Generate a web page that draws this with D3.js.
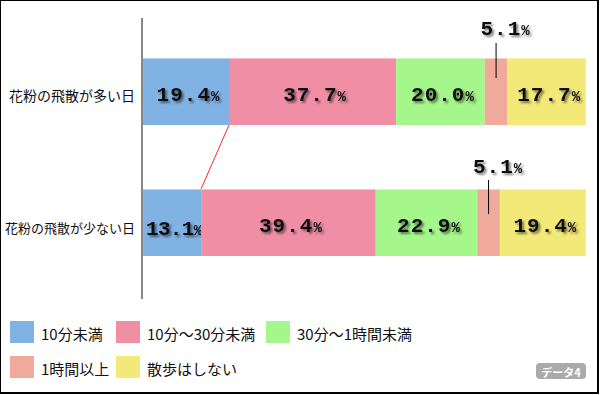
<!DOCTYPE html>
<html>
<head>
<meta charset="utf-8">
<script src="https://cdn.jsdelivr.net/npm/d3@7"></script>
<style>
  body { margin: 0; background: #fff; }
  svg { display: block; }
</style>
</head>
<body>
<div id="chart"></div>
<script>
(function() {
  'use strict';

  // data
  var categories = ['花粉の飛散が多い日', '花粉の飛散が少ない日'];
  var seriesNames = ['10分未満', '10分～30分未満', '30分～1時間未満', '1時間以上', '散歩はしない'];
  var seriesColors = ['#80b2e4', '#f08ea6', '#a5f68b', '#f0aa9b', '#f3e979'];
  var manyDay = [19.4, 37.7, 20.0, 5.1, 17.7];
  var fewDay = [13.1, 39.4, 22.9, 5.1, 19.4];
  var rows = [manyDay, fewDay];
  var badgeText = 'データ4';

  var width = 600,
    height = 395;

  var svg = d3.select('#chart')
    .append('svg')
    .attr('width', width)
    .attr('height', height);

  // frame (thin top/left, heavier right/bottom)
  svg.append('rect')
    .attr('x', 0).attr('y', 0)
    .attr('width', 599).attr('height', 394)
    .attr('fill', '#000');
  svg.append('rect')
    .attr('x', 1).attr('y', 1)
    .attr('width', 596).attr('height', 391)
    .attr('fill', '#fff');

  var defs = svg.append('defs');
  var shadow = defs.append('filter')
    .attr('id', 'txtShadow')
    .attr('x', '-20%').attr('y', '-30%')
    .attr('width', '140%').attr('height', '160%');
  shadow.append('feGaussianBlur')
    .attr('in', 'SourceAlpha')
    .attr('stdDeviation', 1)
    .attr('result', 'blur');
  shadow.append('feOffset')
    .attr('in', 'blur')
    .attr('dx', 2).attr('dy', 2)
    .attr('result', 'off');
  shadow.append('feComponentTransfer')
    .attr('in', 'off')
    .attr('result', 'soft')
    .append('feFuncA')
    .attr('type', 'linear')
    .attr('slope', 0.5);
  var merge = shadow.append('feMerge');
  merge.append('feMergeNode').attr('in', 'soft');
  merge.append('feMergeNode').attr('in', 'SourceGraphic');

  var x = d3.scaleLinear()
    .domain([0, 100])
    .range([143, 586.3]);

  var y = d3.scaleBand()
    .domain(categories)
    .range([58, 256])
    .paddingInner(0.4885)
    .paddingOuter(0);

  var bw = y.bandwidth();

  // stack each row
  var stacked = rows.map(function(vals, ri) {
    var acc = 0;
    return vals.map(function(v, si) {
      var d = { row: ri, cat: categories[ri], series: si, value: v, x0: acc, x1: acc + v };
      acc += v;
      return d;
    });
  });

  // axis line
  svg.append('line')
    .attr('x1', 142).attr('x2', 142)
    .attr('y1', 18).attr('y2', 299)
    .attr('stroke', '#888')
    .attr('stroke-width', 2);

  // connector between first segments
  svg.append('line')
    .attr('x1', x(stacked[0][0].x1)).attr('y1', y(categories[0]) + bw)
    .attr('x2', x(stacked[1][0].x1)).attr('y2', y(categories[1]))
    .attr('stroke', '#ff2a2a')
    .attr('stroke-width', 1);

  var all = d3.merge(stacked);

  var seg = svg.selectAll('.seg')
    .data(all)
    .enter()
    .append('g')
    .attr('class', 'seg');

  seg.append('rect')
    .attr('x', function(d) { return x(d.x0); })
    .attr('y', function(d) { return y(d.cat); })
    .attr('width', function(d) { return x(d.x1) - x(d.x0); })
    .attr('height', bw)
    .attr('fill', function(d) { return seriesColors[d.series]; });

  // faint highlight on top edge
  seg.append('rect')
    .attr('x', function(d) { return x(d.x0); })
    .attr('y', function(d) { return y(d.cat); })
    .attr('width', function(d) { return x(d.x1) - x(d.x0); })
    .attr('height', 1)
    .attr('fill', '#fff')
    .attr('opacity', 0.45);

  var labelDy = [2, 3];
  var calloutRise = [23, 16];
  var calloutLine = [[-15, 20], [-9, 25]];

  function addLabel(sel, d, cx, cy, fit) {
    var t = sel.append('text')
      .attr('x', cx)
      .attr('y', cy)
      .attr('text-anchor', 'middle')
      .attr('font-family', '"Liberation Mono", "DejaVu Sans Mono", monospace')
      .attr('font-weight', 'bold')
      .attr('fill', '#111')
      .attr('filter', 'url(#txtShadow)');
    var num = t.append('tspan')
      .attr('font-size', '21px')
      .attr('letter-spacing', '1px')
      .text(d.value.toFixed(1));
    t.append('tspan')
      .attr('font-size', '14px')
      .text('%');
    if (fit) {
      var w = t.node().getComputedTextLength();
      if (w > fit) {
        // squeeze the digits when the segment is too narrow
        num.attr('letter-spacing', (1 - (w - fit) / 4) + 'px');
        t.attr('y', cy + 3);
      }
    }
    return t;
  }

  seg.each(function(d) {
    var g = d3.select(this);
    var x0 = x(d.x0),
      x1 = x(d.x1);
    var cx = (x0 + x1) / 2;
    var top = y(d.cat);
    if (d.value < 10) {
      g.append('line')
        .attr('x1', cx).attr('x2', cx)
        .attr('y1', top + calloutLine[d.row][0])
        .attr('y2', top + calloutLine[d.row][1])
        .attr('stroke', '#000')
        .attr('stroke-width', 1);
      addLabel(g, d, cx + 9, top - calloutRise[d.row], null);
    } else {
      var cy = top + bw / 2 + labelDy[d.row] + 7;
      addLabel(g, d, cx + 2, cy, x1 - x0 - 2);
    }
  });

  // category labels
  var catSize = [14, 13];
  var catDy = [3, 5];
  svg.selectAll('.cat')
    .data(categories)
    .enter()
    .append('text')
    .attr('class', 'cat')
    .attr('x', 135)
    .attr('y', function(d, i) { return y(d) + bw / 2 + catDy[i]; })
    .attr('dominant-baseline', 'central')
    .attr('text-anchor', 'end')
    .attr('font-family', '"Noto Sans CJK JP", sans-serif')
    .style('font-size', function(d, i) { return catSize[i] + 'px'; })
    .attr('fill', '#111')
    .text(function(d) { return d; });

  // legend
  var legendX = [10, 116, 266];
  var legendY = [321, 356];
  var leg = svg.selectAll('.leg')
    .data(seriesNames)
    .enter()
    .append('g')
    .attr('class', 'leg')
    .attr('transform', function(d, i) {
      return 'translate(' + legendX[i % 3] + ',' + legendY[Math.floor(i / 3)] + ')';
    });
  leg.append('rect')
    .attr('width', 24)
    .attr('height', 22)
    .attr('fill', function(d, i) { return seriesColors[i]; });
  leg.append('text')
    .attr('x', 31)
    .attr('y', 12)
    .attr('dominant-baseline', 'central')
    .attr('font-family', '"Noto Sans CJK JP", sans-serif')
    .style('font-size', '15px')
    .attr('fill', '#111')
    .text(function(d) { return d; });

  // badge
  var badge = svg.append('g').attr('transform', 'translate(536,363)');
  badge.append('rect')
    .attr('width', 50).attr('height', 16)
    .attr('rx', 4).attr('ry', 4)
    .attr('fill', '#aaa');
  badge.append('text')
    .attr('x', 25).attr('y', 8.5)
    .attr('text-anchor', 'middle')
    .attr('dominant-baseline', 'central')
    .attr('font-family', '"Noto Sans CJK JP", sans-serif')
    .attr('font-weight', 'bold')
    .style('font-size', '11px')
    .attr('fill', '#fff')
    .text(badgeText);
})();
</script>
</body>
</html>
